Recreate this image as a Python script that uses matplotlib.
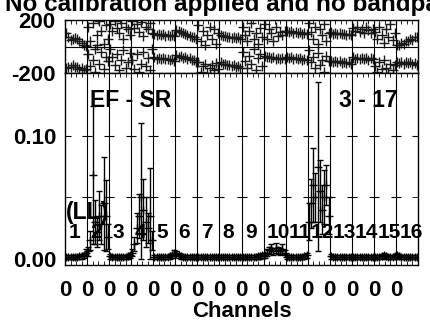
import matplotlib
matplotlib.use("Agg")
import matplotlib.pyplot as plt
import numpy as np

plt.rcParams['font.family'] = ['Liberation Sans', 'DejaVu Sans']
plt.rcParams['font.weight'] = 'bold'

title = "No calibration applied and no bandpass applied"
baseline = "EF - SR"
timerange = "3 - 17"
stokes = "(LL)"
if_labels = [str(i) for i in range(1, 17)]
nchan = 10

# phase (deg), two tracks per IF
phase_hi = [
    [100, 75, 50, 55, 62, 58, 45, 30, 15, 5],
    [150, 40, 180, -20, 90, 190, 120, 20, 160, 60],
    [170, 120, 190, 140, 100, 180, 60, 150, 130, 90],
    [190, 140, 170, 110, 185, 80, 150, 130, 175, 100],
    [95, 88, 96, 84, 92, 80, 89, 78, 86, 76],
    [125, 115, 112, 100, 98, 85, 82, 70, 70, 58],
    [160, 40, 120, 10, 90, 150, 60, 130, 20, 100],
    [88, 76, 80, 68, 74, 64, 72, 62, 68, 56],
    [150, 90, 40, 120, 180, 60, 100, 20, 140, 70],
    [170, 60, 130, 100, 40, 150, 80, 110, 90, 120],
    [118, 108, 114, 104, 110, 100, 106, 96, 102, 92],
    [180, 110, 60, 150, 20, 130, 90, 170, 40, 100],
    [108, 98, 104, 95, 101, 92, 98, 88, 95, 86],
    [140, 120, 150, 110, 130, 100, 145, 125, 105, 135],
    [110, 60, 150, 90, 30, 130, 70, 170, 50, 100],
    [12, 8, 25, 22, 40, 38, 55, 50, 70, 68],
]
phase_lo = [
    [-165, -155, -152, -140, -155, -158, -170, -165, -178, -172],
    [-60, -150, -100, -190, 10, -130, -40, -170, -80, -110],
    [-20, -80, -140, -60, -180, -100, -30, -160, -120, -50],
    [-100, -170, -60, -190, -130, -40, -150, -90, -180, -20],
    [-82, -92, -85, -95, -88, -98, -92, -102, -98, -108],
    [-66, -78, -74, -86, -82, -94, -90, -104, -100, -116],
    [-120, -190, -150, -130, -198, -160, -140, -180, -125, -170],
    [-120, -132, -130, -142, -136, -148, -142, -154, -150, -164],
    [-40, -110, -160, -70, -130, -20, -180, -90, -60, -150],
    [-70, -82, -76, -88, -80, -92, -84, -95, -88, -98],
    [-76, -86, -82, -92, -86, -96, -90, -100, -94, -104],
    [-30, -120, -80, -160, -50, -140, -100, -190, -70, -110],
    [-106, -116, -110, -120, -113, -122, -116, -126, -120, -130],
    [-82, -92, -86, -96, -86, -92, -88, -99, -86, -97],
    [-150, -190, -120, -170, -100, -160, -198, -130, -180, -140],
    [-116, -124, -118, -130, -116, -124, -118, -130, -124, -136],
]

# amplitude (Jy) and its error per channel
amp = [
    [0.0015, 0.0015, 0.0015, 0.0015, 0.0015, 0.0015, 0.002, 0.002, 0.003, 0.005],
    [0.006, 0.015, 0.068, 0.030, 0.022, 0.035, 0.028, 0.045, 0.035, 0.018],
    [0.002, 0.0015, 0.0015, 0.0015, 0.0015, 0.0015, 0.0015, 0.0015, 0.002, 0.003],
    [0.005, 0.012, 0.025, 0.035, 0.050, 0.040, 0.030, 0.025, 0.035, 0.015],
    [0.0015, 0.0015, 0.0015, 0.0015, 0.0015, 0.0015, 0.0015, 0.002, 0.003, 0.005],
    [0.004, 0.003, 0.002, 0.0015, 0.0015, 0.0015, 0.0015, 0.0015, 0.0015, 0.0015],
    [0.0015, 0.0015, 0.0015, 0.0015, 0.0015, 0.0015, 0.0015, 0.0015, 0.0015, 0.0015],
    [0.0015, 0.0015, 0.0015, 0.0015, 0.0015, 0.0015, 0.0015, 0.0015, 0.0015, 0.0015],
    [0.0015, 0.0015, 0.0015, 0.0015, 0.0015, 0.0015, 0.0015, 0.002, 0.002, 0.003],
    [0.003, 0.005, 0.007, 0.008, 0.006, 0.009, 0.007, 0.006, 0.008, 0.005],
    [0.0015, 0.0015, 0.0015, 0.0015, 0.0015, 0.0015, 0.0015, 0.0015, 0.002, 0.003],
    [0.030, 0.045, 0.060, 0.050, 0.075, 0.055, 0.040, 0.050, 0.060, 0.035],
    [0.002, 0.0015, 0.0015, 0.0015, 0.0015, 0.0015, 0.0015, 0.0015, 0.0015, 0.0015],
    [0.0015, 0.0015, 0.0015, 0.0015, 0.0015, 0.0015, 0.0015, 0.0015, 0.0015, 0.0015],
    [0.0015, 0.0015, 0.0015, 0.002, 0.003, 0.002, 0.0015, 0.0015, 0.0015, 0.002],
    [0.003, 0.002, 0.0015, 0.0015, 0.0015, 0.0015, 0.0015, 0.0015, 0.0015, 0.0015],
]
amp_err = [
    [0.002, 0.002, 0.002, 0.002, 0.002, 0.002, 0.002, 0.002, 0.002, 0.003],
    [0.004, 0.008, 0.056, 0.018, 0.012, 0.020, 0.016, 0.038, 0.029, 0.010],
    [0.002, 0.002, 0.002, 0.002, 0.002, 0.002, 0.002, 0.002, 0.002, 0.002],
    [0.003, 0.006, 0.012, 0.018, 0.060, 0.025, 0.020, 0.012, 0.039, 0.008],
    [0.002, 0.002, 0.002, 0.002, 0.002, 0.002, 0.002, 0.002, 0.002, 0.002],
    [0.002, 0.002, 0.002, 0.002, 0.002, 0.002, 0.002, 0.002, 0.002, 0.002],
    [0.002, 0.002, 0.002, 0.002, 0.002, 0.002, 0.002, 0.002, 0.002, 0.002],
    [0.002, 0.002, 0.002, 0.002, 0.002, 0.002, 0.002, 0.002, 0.002, 0.002],
    [0.002, 0.002, 0.002, 0.002, 0.002, 0.002, 0.002, 0.002, 0.002, 0.002],
    [0.002, 0.003, 0.003, 0.004, 0.003, 0.004, 0.003, 0.003, 0.004, 0.002],
    [0.002, 0.002, 0.002, 0.002, 0.002, 0.002, 0.002, 0.002, 0.002, 0.002],
    [0.015, 0.020, 0.030, 0.020, 0.069, 0.025, 0.020, 0.022, 0.016, 0.015],
    [0.002, 0.002, 0.002, 0.002, 0.002, 0.002, 0.002, 0.002, 0.002, 0.002],
    [0.002, 0.002, 0.002, 0.002, 0.002, 0.002, 0.002, 0.002, 0.002, 0.002],
    [0.002, 0.002, 0.002, 0.002, 0.002, 0.002, 0.002, 0.002, 0.002, 0.002],
    [0.002, 0.002, 0.002, 0.002, 0.002, 0.002, 0.002, 0.002, 0.002, 0.002],
]

nif = len(if_labels)
bounds = np.arange(nif + 1) * nchan

fig = plt.figure(figsize=(4.3, 3.22), dpi=100)
W, H = 430.0, 322.0
ax_ph = fig.add_axes([65 / W, 1 - 73 / H, 353 / W, 53 / H])
ax_am = fig.add_axes([65 / W, 1 - 265 / H, 353 / W, 192 / H], sharex=ax_ph)

for k in range(nif):
    x = k * nchan + np.arange(nchan) + 0.5
    ax_ph.plot(x, phase_hi[k], '+', ms=7, mew=1.0, color='#1a1a1a')
    ax_ph.plot(x, phase_lo[k], '+', ms=7, mew=1.0, color='#1a1a1a')
    a = np.array(amp[k])
    e = np.array(amp_err[k])
    ax_am.errorbar(x, a, yerr=[np.minimum(e, a), e], fmt='+', ms=6, mew=1.0,
                   color='k', elinewidth=1.0, capsize=2.5, capthick=1.0)

for b in bounds[1:-1]:
    ax_ph.axvline(b, color='k', lw=0.8)
    ax_am.axvline(b, color='k', lw=0.8)
ax_ph.axhline(0, color='k', lw=0.8)

# small y ticks crossing each IF boundary
for yv in [0.05, 0.10]:
    ax_am.plot(bounds[1:-1], [yv] * (nif - 1), ls='none', marker='_', ms=7,
               mew=0.8, color='k')

ax_ph.set_xlim(0, nif * nchan)
ax_ph.set_ylim(-200, 200)
ax_am.set_ylim(-0.005, 0.151)

for ax in (ax_ph, ax_am):
    for s in ax.spines.values():
        s.set_linewidth(1.0)

ax_ph.set_yticks([-200, 200])
ax_ph.set_yticklabels(['-200', '200'])
ax_ph.tick_params(axis='y', direction='in', length=4, pad=7, labelsize=16)
ax_ph.tick_params(axis='x', which='both', bottom=False, top=True,
                  labelbottom=False, direction='in')

ax_am.set_yticks([0.0, 0.10])
ax_am.set_yticklabels(['0.00', '0.10'])
ax_am.set_yticks([0.05], minor=True)
ax_am.tick_params(axis='y', which='both', direction='in', length=4, pad=6,
                  labelsize=16, right=True)

ax_am.set_xticks(bounds[:-1])
ax_am.set_xticklabels(['0'] * nif)
ax_am.set_xticks(np.arange(0, nif * nchan, 2.5), minor=True)
ax_am.tick_params(axis='x', which='major', length=0, pad=11, labelsize=16)
ax_am.tick_params(axis='x', which='minor', direction='in', length=3, top=True)
ax_ph.set_xticks(np.arange(0, nif * nchan, 2.5), minor=True)
ax_ph.tick_params(axis='x', which='minor', direction='in', length=3)

ax_am.set_xlabel('Channels', fontsize=16, fontweight='bold', labelpad=0)

for k in range(nif):
    ax_am.text(k * nchan + 1.5, 0.021, if_labels[k], fontsize=15,
               fontweight='bold', ha='left', va='center')
ax_am.text(0.3, 0.0374, stokes, fontsize=16.5, fontweight='bold',
           ha='left', va='center')
ax_am.text(0.187, 0.129, baseline, transform=ax_am.get_yaxis_transform(),
           fontsize=16.5, fontweight='bold', ha='center', va='center')
ax_am.text(0.858, 0.129, timerange, transform=ax_am.get_yaxis_transform(),
           fontsize=16.5, fontweight='bold', ha='center', va='center')

fig.text(5 / W, 1 - 11 / H, title, fontsize=17.5, fontweight='bold',
         ha='left', va='baseline')

fig.savefig('out.png', dpi=100)
